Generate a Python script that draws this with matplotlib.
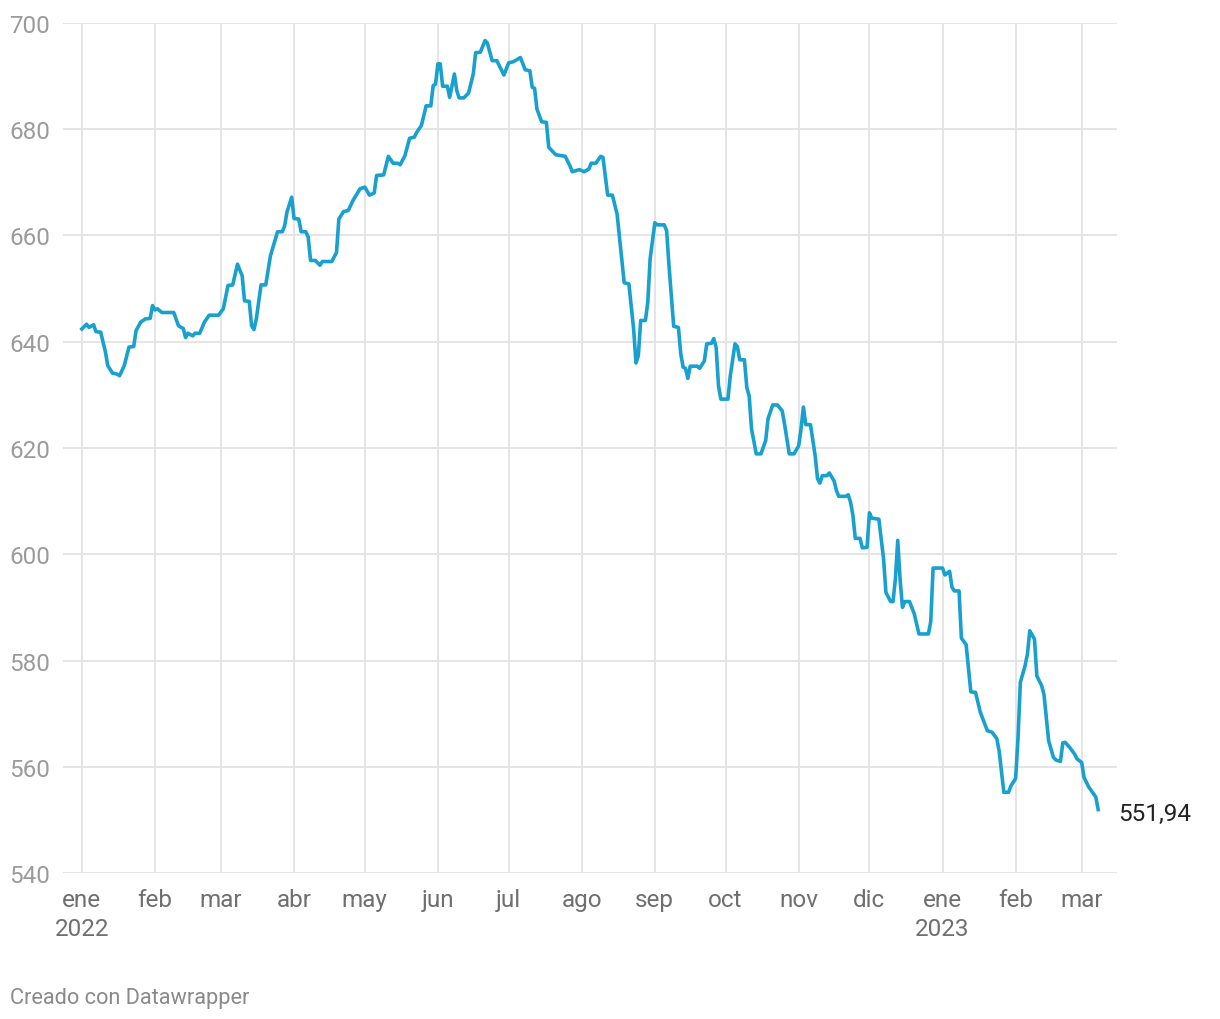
import matplotlib
matplotlib.use("Agg")
import matplotlib.pyplot as plt
import pandas as pd
import numpy as np

plt.rcParams["font.family"] = ["Roboto", "DejaVu Sans"]

# days since 2022-01-01 and the value
start = pd.Timestamp("2022-01-01")
days = [0, 2, 3, 5, 6, 8, 10, 11, 13, 15, 16, 18, 20, 22, 23, 25, 27, 29, 30, 31,
        32, 34, 39, 41, 43, 44, 45, 47, 48, 50, 52, 54, 58, 60, 62, 64, 66, 68, 69, 71,
        72, 73, 74, 76, 78, 80, 83, 85, 86, 87, 89, 90, 92, 93, 95, 96, 97, 99, 101, 102,
        106, 108, 109, 111, 113, 115, 118, 120, 122, 124, 125, 128, 130, 132, 134, 135, 137, 139, 141, 142,
        144, 145, 146, 148, 149, 150, 151, 152, 153, 155, 156, 158, 159, 160, 162, 164, 166, 167, 169, 171,
        172, 174, 176, 179, 181, 183, 186, 188, 190, 191, 192, 193, 195, 197, 198, 201, 205, 207, 208, 211,
        213, 215, 216, 218, 220, 221, 223, 225, 227, 230, 232, 234, 235, 236, 237, 239, 240, 241, 243, 244,
        247, 248, 249, 251, 253, 254, 255, 256, 257, 258, 261, 262, 264, 265, 267, 268, 269, 270, 271, 274,
        275, 277, 278, 279, 281, 282, 283, 284, 286, 288, 290, 291, 293, 295, 297, 298, 300, 302, 304, 305,
        306, 307, 309, 311, 312, 313, 314, 316, 317, 319, 320, 321, 324, 325, 326, 327, 328, 330, 331, 333,
        334, 335, 338, 340, 341, 343, 344, 345, 346, 347, 348, 349, 351, 353, 355, 359, 360, 361, 365, 366,
        368, 369, 370, 372, 373, 375, 377, 379, 381, 384, 386, 388, 389, 391, 393, 394, 396, 397, 398, 400,
        401, 402, 404, 405, 407, 408, 410, 412, 413, 415, 416, 417, 419, 421, 422, 424, 425, 427, 430, 431]
values = [642.4, 643.3, 642.7, 643.2, 641.9, 641.8, 638.1, 635.5, 634.1, 633.9,
          633.6, 635.5, 639.0, 639.1, 642.1, 643.7, 644.3, 644.4, 646.8, 646.0,
          646.2, 645.5, 645.5, 643.0, 642.5, 640.8, 641.6, 641.1, 641.6, 641.6,
          643.7, 645.0, 645.0, 646.2, 650.6, 650.7, 654.6, 652.4, 647.7, 647.6,
          643.0, 642.3, 644.3, 650.7, 650.7, 656.2, 660.7, 660.7, 661.8, 664.4,
          667.2, 663.2, 663.1, 660.7, 660.7, 659.7, 655.3, 655.3, 654.4, 655.1,
          655.1, 656.8, 663.1, 664.5, 664.7, 666.6, 668.8, 669.1, 667.6, 668.0,
          671.3, 671.4, 674.9, 673.6, 673.6, 673.3, 675.0, 678.3, 678.5, 679.4,
          680.7, 682.5, 684.4, 684.4, 688.2, 688.5, 692.3, 692.3, 688.1, 688.1,
          686.0, 690.4, 687.3, 685.9, 685.9, 686.8, 690.4, 694.4, 694.5, 696.7,
          696.2, 692.9, 692.9, 690.2, 692.5, 692.7, 693.5, 691.2, 691.0, 687.9,
          687.7, 683.8, 681.4, 681.3, 676.6, 675.2, 674.9, 673.1, 672.0, 672.4,
          672.0, 672.5, 673.6, 673.6, 674.9, 674.7, 667.6, 667.6, 664.0, 651.1,
          650.9, 642.4, 636.0, 637.4, 644.0, 644.0, 647.4, 655.6, 662.4, 662.0,
          662.0, 660.9, 654.3, 642.9, 642.7, 637.7, 635.2, 635.0, 633.1, 635.4,
          635.4, 635.0, 636.4, 639.6, 639.7, 640.6, 638.9, 631.7, 629.2, 629.2,
          633.6, 639.6, 639.1, 636.6, 636.6, 631.4, 629.8, 623.6, 618.9, 618.9,
          621.4, 625.5, 628.1, 628.1, 627.0, 624.5, 618.9, 618.9, 620.4, 623.6,
          627.7, 624.4, 624.4, 618.5, 614.2, 613.4, 614.8, 614.8, 615.3, 613.8,
          612.0, 610.9, 610.9, 611.2, 609.8, 607.3, 603.0, 603.0, 601.2, 601.3,
          607.8, 606.8, 606.6, 599.1, 592.8, 591.1, 591.1, 595.3, 602.6, 595.3,
          590.0, 591.1, 591.1, 588.8, 585.0, 585.0, 587.3, 597.4, 597.4, 596.1,
          596.8, 593.8, 593.1, 593.1, 584.2, 583.0, 574.1, 574.0, 570.3, 566.8,
          566.5, 565.3, 563.0, 555.2, 555.2, 556.4, 557.8, 565.3, 575.9, 579.0,
          581.2, 585.6, 584.0, 577.1, 575.3, 573.7, 564.9, 561.8, 561.3, 561.0,
          564.5, 564.6, 563.6, 562.4, 561.5, 560.8, 558.0, 556.2, 554.3, 551.94]

month_starts = pd.date_range("2022-01-01", "2023-03-01", freq="MS")
month_labels = ["ene\n2022", "feb", "mar", "abr", "may", "jun", "jul", "ago",
                "sep", "oct", "nov", "dic", "ene\n2023", "feb", "mar"]
y_ticks = [540, 560, 580, 600, 620, 640, 660, 680, 700]

dates = start + pd.to_timedelta(days, unit="D")

fig = plt.figure(figsize=(12.2, 10.2), dpi=100)
ax = fig.add_axes([0.0516, 0.1431, 0.864, 0.8334])

ax.plot(dates, values, color="#18a0cf", lw=2.6, solid_joinstyle="round", zorder=3)

ax.set_ylim(540, 700)
ax.set_xlim(start - pd.Timedelta(days=8), start + pd.Timedelta(days=439))
ax.set_yticks(y_ticks)
ax.set_xticks(month_starts)
ax.set_xticklabels(month_labels)

ax.grid(True, color="#e3e3e3", lw=1.3)
ax.set_axisbelow(True)
for s in ax.spines.values():
    s.set_visible(False)
ax.tick_params(axis="both", length=0)
ax.tick_params(axis="y", pad=9.5, labelsize=17.5, labelcolor="#9b9b9b")
ax.tick_params(axis="x", pad=11, labelsize=17.5, labelcolor="#6f6f6f")
for lab in ax.get_xticklabels():
    lab.set_linespacing(1.32)

ax.annotate("551,94", (dates[-1], values[-1]), xytext=(14.5, -3),
            textcoords="offset points", fontsize=17.5, color="#222222",
            va="center", ha="left", annotation_clip=False)

fig.text(0.008, 0.016, "Creado con Datawrapper", fontsize=15.7, color="#8a8a8a")

fig.savefig("out.png", dpi=100)
